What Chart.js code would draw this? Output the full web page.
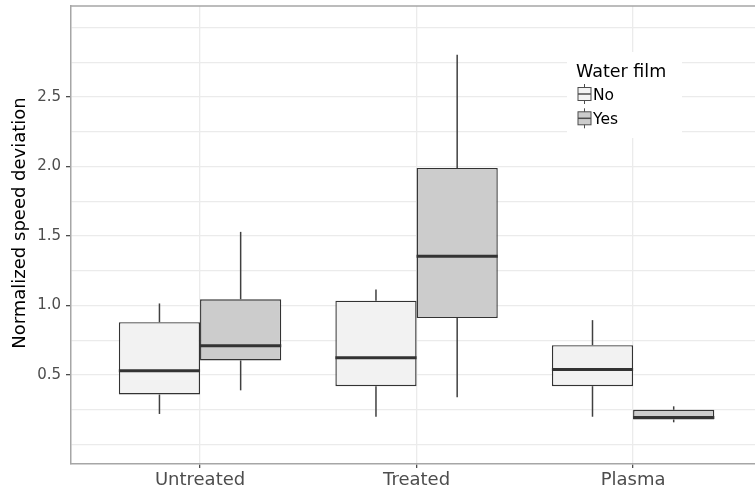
<!DOCTYPE html>
<html>
<head>
<meta charset="utf-8">
<script src="https://cdn.jsdelivr.net/npm/chart.js@4.4.1/dist/chart.umd.min.js"></script>
<style>
html, body { margin: 0; padding: 0; background: #fff; overflow: hidden; }
#wrap { width: 755px; height: 493px; position: relative; }
</style>
</head>
<body>
<div id="wrap"><canvas id="speedBox"></canvas></div>
<script>
const groups = ['Untreated', 'Treated', 'Plasma'];
const seriesNames = ['No', 'Yes'];

// box summaries, one value per group
const noMin    = [0.22, 0.20, 0.20];
const noQ1     = [0.36, 0.42, 0.42];
const noMedian = [0.53, 0.625, 0.54];
const noQ3     = [0.88, 1.035, 0.715];
const noMax    = [1.015, 1.115, 0.895];

const yesMin    = [0.39, 0.34, 0.16];
const yesQ1     = [0.605, 0.91, 0.18];
const yesMedian = [0.71, 1.355, 0.195];
const yesQ3     = [1.045, 1.99, 0.25];
const yesMax    = [1.53, 2.805, 0.275];

const gridSteps = [0, 0.25, 0.5, 0.75, 1, 1.25, 1.5, 1.75, 2, 2.25, 2.5, 2.75, 3];
const yLabels = [0.5, 1, 1.5, 2, 2.5];
const yTitle = 'Normalized speed deviation';

const fills = ['#f2f2f2', '#cccccc'];
const summaries = [
    { min: noMin, q1: noQ1, med: noMedian, q3: noQ3, max: noMax },
    { min: yesMin, q1: yesQ1, med: yesMedian, q3: yesQ3, max: yesMax }
];

Chart.defaults.font.family = "'DejaVu Sans', sans-serif";

const line = (ctx, x1, y1, x2, y2) => {
    ctx.beginPath();
    ctx.moveTo(x1, y1);
    ctx.lineTo(x2, y2);
    ctx.stroke();
};

// whiskers + median, drawn from the same summaries through the y scale
const boxExtras = {
    id: 'boxExtras',
    afterDatasetsDraw(chart) {
        const ctx = chart.ctx;
        const y = chart.scales.y;
        chart.data.datasets.forEach((ds, d) => {
            const s = summaries[d];
            chart.getDatasetMeta(d).data.forEach((bar, i) => {
                const { x, width } = bar.getProps(['x', 'width'], true);
                ctx.save();
                ctx.strokeStyle = '#404040';
                ctx.lineWidth = 1.5;
                line(ctx, x, y.getPixelForValue(s.max[i]), x, y.getPixelForValue(s.q3[i]));
                line(ctx, x, y.getPixelForValue(s.q1[i]), x, y.getPixelForValue(s.min[i]));
                ctx.strokeStyle = '#333333';
                ctx.lineWidth = 3;
                const my = y.getPixelForValue(s.med[i]);
                line(ctx, x - width / 2, my, x + width / 2, my);
                ctx.restore();
            });
        });
    }
};

// top edge of the panel, y title and the ggplot style legend
const panelAndLegend = {
    id: 'panelAndLegend',
    afterDraw(chart) {
        const ctx = chart.ctx;
        const a = chart.chartArea;
        ctx.save();
        ctx.strokeStyle = '#a6a6a6';
        ctx.lineWidth = 1.5;
        line(ctx, a.left, a.top, a.right, a.top);

        ctx.save();
        ctx.translate(20, 223);
        ctx.rotate(-Math.PI / 2);
        ctx.fillStyle = '#000000';
        ctx.font = "18px 'DejaVu Sans'";
        ctx.textAlign = 'center';
        ctx.textBaseline = 'middle';
        ctx.fillText(yTitle, 0, 0);
        ctx.restore();

        ctx.fillStyle = '#ffffff';
        ctx.fillRect(567, 52, 115, 86);
        ctx.fillStyle = '#000000';
        ctx.font = "17.5px 'DejaVu Sans'";
        ctx.textBaseline = 'alphabetic';
        ctx.fillText('Water film', 576, 77);

        seriesNames.forEach((name, k) => {
            const cy = 94 + k * 24.3;
            ctx.strokeStyle = '#4d4d4d';
            ctx.lineWidth = 1;
            line(ctx, 584.5, cy - 10, 584.5, cy + 10);
            ctx.fillStyle = fills[k];
            ctx.fillRect(578, cy - 6.5, 13, 13);
            ctx.strokeRect(578, cy - 6.5, 13, 13);
            ctx.lineWidth = 1.5;
            line(ctx, 578, cy, 591, cy);
            ctx.fillStyle = '#000000';
            ctx.font = "15.5px 'DejaVu Sans'";
            ctx.fillText(name, 593, cy + 6);
        });
        ctx.restore();
    }
};

const speedBox = new Chart(
    document.getElementById('speedBox'),
    {
        type: 'bar',
        data: {
            datasets: summaries.map((s, d) => ({
                label: seriesNames[d],
                data: groups.map((g, i) => ({ x: i + 1, y: [s.q1[i], s.q3[i]] })),
                backgroundColor: fills[d],
                borderColor: '#333333',
                borderWidth: 1.4,
                borderSkipped: false,
                categoryPercentage: 0.75,
                barPercentage: 1
            }))
        },
        options: {
            responsive: true,
            maintainAspectRatio: false,
            animation: false,
            layout: { padding: { top: 6, right: 0, left: 0, bottom: 0 } },
            plugins: {
                legend: { display: false },
                tooltip: { enabled: false }
            },
            scales: {
                x: {
                    type: 'linear',
                    min: 0.404,
                    max: 3.563,
                    offset: false,
                    afterBuildTicks: (s) => { s.ticks = groups.map((g, i) => ({ value: i + 1 })); },
                    afterFit: (s) => { s.height = 29; s.paddingLeft = 0; s.paddingRight = 0; },
                    ticks: {
                        autoSkip: false,
                        maxRotation: 0,
                        color: '#4d4d4d',
                        font: { size: 18 },
                        padding: 2,
                        callback: (v) => groups[v - 1]
                    },
                    grid: {
                        offset: false,
                        color: '#ebebeb',
                        lineWidth: 1.3,
                        tickLength: 4,
                        tickColor: '#4d4d4d'
                    },
                    border: { color: '#a6a6a6', width: 1.5 }
                },
                y: {
                    min: -0.14,
                    max: 3.155,
                    afterBuildTicks: (s) => { s.ticks = gridSteps.map((v) => ({ value: v })); },
                    afterFit: (s) => { s.width = 71; s.paddingTop = 0; s.paddingBottom = 0; },
                    ticks: {
                        autoSkip: false,
                        color: '#4d4d4d',
                        font: { size: 15 },
                        padding: 5,
                        callback: (v) => yLabels.includes(v) ? v.toFixed(1) : ''
                    },
                    grid: {
                        color: '#ebebeb',
                        lineWidth: 1.3,
                        tickLength: 5,
                        tickColor: (c) => c.tick && yLabels.includes(c.tick.value) ? '#4d4d4d' : 'rgba(0,0,0,0)'
                    },
                    border: { color: '#a6a6a6', width: 1.5 }
                }
            }
        },
        plugins: [boxExtras, panelAndLegend]
    }
)
</script>
</body>
</html>
